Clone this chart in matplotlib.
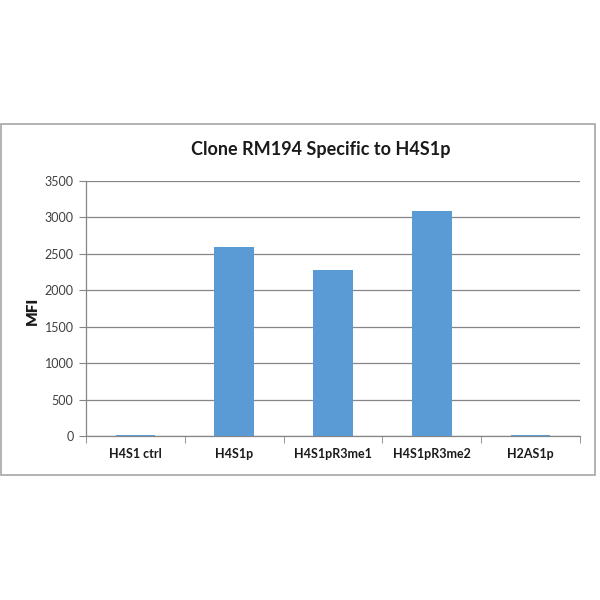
import numpy as np
import matplotlib.pyplot as plt
from matplotlib.patches import Rectangle

categories = ["H4S1 ctrl", "H4S1p", "H4S1pR3me1", "H4S1pR3me2", "H2AS1p"]
mfi = [15, 2590, 2280, 3090, 15]
yticks = [0, 500, 1000, 1500, 2000, 2500, 3000, 3500]

plt.rcParams['font.family'] = ['Lato', 'DejaVu Sans']

fig = plt.figure(figsize=(6, 6), dpi=100)
fig.patches.append(Rectangle((1/600, 1 - 475/600), 594/600, 351/600,
                             transform=fig.transFigure, fill=False,
                             edgecolor='#a6a6a6', lw=1.2))

ax = fig.add_axes([86/600, 1 - 436/600, 494/600, 255/600])
x = np.arange(len(categories))
ax.bar(x, mfi, width=0.4, color='#5b9bd5', zorder=3)

ax.set_xlim(-0.5, len(categories) - 0.5)
ax.set_ylim(0, 3500)
ax.set_yticks(yticks)
ax.set_yticklabels([str(v) for v in yticks], fontsize=9, color='#404040')
ax.set_xticks(x)
ax.set_xticklabels(categories, fontsize=9, fontweight='bold', color='#1a1a1a')
ax.tick_params(axis='x', length=0, pad=9)
ax.set_xticks(np.arange(len(categories) + 1) - 0.5, minor=True)
ax.tick_params(axis='x', which='minor', length=5, color='#868686')
ax.tick_params(axis='y', length=5, color='#868686', pad=4)

ax.grid(axis='y', color='#868686', lw=0.9, zorder=0)
for s in ['top', 'right']:
    ax.spines[s].set_visible(False)
for s in ['left', 'bottom']:
    ax.spines[s].set_color('#868686')
    ax.spines[s].set_linewidth(0.9)

# y label placed like the Excel one
fig.text(32/600, 1 - 311/600, "MFI", rotation=90, ha='center', va='center',
         fontsize=11, fontweight='heavy', color='#1a1a1a')
fig.text(321/600, 1 - 149/600, "Clone RM194 Specific to H4S1p", ha='center', va='center',
         fontsize=13, fontweight='bold', color='#1a1a1a')

fig.savefig("out.png", dpi=100)
